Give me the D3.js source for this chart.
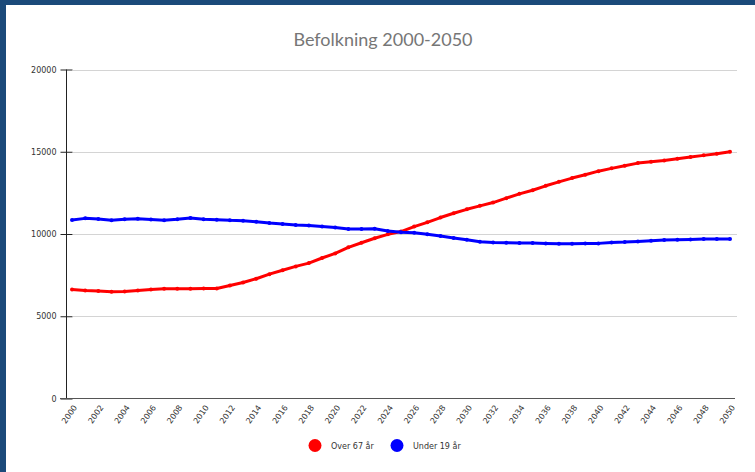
<!DOCTYPE html>
<html>
<head>
<meta charset="utf-8">
<script src="https://cdn.jsdelivr.net/npm/d3@7"></script>
<style>
  html, body { margin: 0; padding: 0; background: #fff; }
  svg { display: block; }
</style>
</head>
<body>
<svg id="chart" width="755" height="472"></svg>
<script>
// ---- data ----
const years = d3.range(2000, 2051);
const over67 = [6630, 6570, 6530, 6490, 6500, 6560, 6630, 6670, 6670, 6670,
  6690, 6690, 6870, 7050, 7280, 7560, 7800, 8030, 8230, 8540,
  8820, 9190, 9470, 9740, 9980, 10150, 10450, 10710, 11000, 11260,
  11500, 11710, 11910, 12180, 12440, 12660, 12930, 13170, 13400, 13600,
  13820, 13990, 14150, 14310, 14390, 14470, 14580, 14680, 14780, 14880, 15000];
const under19 = [10850, 10950, 10910, 10830, 10890, 10930, 10880, 10830, 10890, 10970,
  10890, 10870, 10830, 10810, 10750, 10670, 10610, 10550, 10510, 10450,
  10390, 10310, 10300, 10320, 10180, 10100, 10080, 9980, 9880, 9760,
  9650, 9530, 9490, 9470, 9450, 9450, 9430, 9410, 9410, 9430,
  9430, 9490, 9510, 9550, 9590, 9630, 9650, 9670, 9690, 9690, 9690];
const yTicks = [0, 5000, 10000, 15000, 20000];
const xTicks = d3.range(2000, 2051, 2);
const seriesNames = ["Over 67 år", "Under 19 år"];
const seriesColors = ["#ff0000", "#0000ff"];
const title = "Befolkning 2000-2050";

// ---- drawing ----
const svg = d3.select("#chart");
const W = 755, H = 472;

svg.append("rect").attr("width", W).attr("height", H).attr("fill", "#1b4a7a");
svg.append("rect").attr("x", 6).attr("y", 5).attr("width", W - 6).attr("height", H - 5).attr("fill", "#ffffff");

const x = d3.scaleLinear().domain([2000, 2050]).range([72, 730]);
const y = d3.scaleLinear().domain([0, 20000]).range([398.5, 69.5]);

// title
svg.append("text")
  .attr("x", 383).attr("y", 46)
  .attr("text-anchor", "middle")
  .attr("font-family", "Lato, 'Open Sans', sans-serif")
  .attr("font-size", 18)
  .attr("fill", "#767676")
  .text(title);

// gridlines
svg.append("g").selectAll("line").data(yTicks.filter(d => d > 0)).join("line")
  .attr("x1", 73).attr("x2", 737)
  .attr("y1", d => Math.round(y(d)) + 0.5).attr("y2", d => Math.round(y(d)) + 0.5)
  .attr("stroke", "#d4d4d4").attr("stroke-width", 1.2);

// y axis
const yAxis = d3.axisLeft(y).tickValues(yTicks).tickSize(6).tickPadding(4).tickFormat(d3.format("d"));
const gy = svg.append("g").attr("transform", "translate(66.5,0)").call(yAxis);
gy.select(".domain").attr("stroke", "#222").attr("d", `M0,${y(20000)}V${y(0)}`);
gy.selectAll(".tick line").attr("stroke", "#222").attr("x1", -6).attr("x2", 6);
gy.selectAll(".tick text").attr("font-family", "'DejaVu Sans', sans-serif").attr("font-size", 8).attr("fill", "#333");

// x axis
const xAxis = d3.axisBottom(x).tickValues(xTicks).tickSize(0).tickPadding(0).tickFormat(d3.format("d"));
const gx = svg.append("g").attr("transform", `translate(0,${y(0)})`).call(xAxis);
gx.select(".domain").attr("stroke", "#555").attr("d", "M60,0H735");
gx.selectAll(".tick text")
  .attr("font-family", "'DejaVu Sans', sans-serif").attr("font-size", 8).attr("fill", "#333")
  .attr("text-anchor", "end")
  .attr("dy", null)
  .attr("y", 0)
  .attr("transform", "translate(5,9) rotate(-55)");

// lines
const series = [over67, under19];
const line = d3.line().x((d, i) => x(years[i])).y(d => y(d));
series.forEach((vals, si) => {
  svg.append("path").datum(vals)
    .attr("fill", "none").attr("stroke", seriesColors[si])
    .attr("stroke-width", 3).attr("stroke-linejoin", "round")
    .attr("d", line);
  svg.append("g").selectAll("circle").data(vals).join("circle")
    .attr("cx", (d, i) => x(years[i])).attr("cy", d => y(d))
    .attr("r", 2).attr("fill", seriesColors[si]);
});

// legend
const legendX = [315, 397];
const lg = svg.append("g");
seriesNames.forEach((name, i) => {
  lg.append("circle").attr("cx", legendX[i]).attr("cy", 445.5).attr("r", 6.5).attr("fill", seriesColors[i]);
  lg.append("text").attr("x", legendX[i] + 16).attr("y", 448.5)
    .attr("font-family", "'DejaVu Sans', sans-serif").attr("font-size", 8).attr("fill", "#333")
    .text(name);
});
</script>
</body>
</html>
